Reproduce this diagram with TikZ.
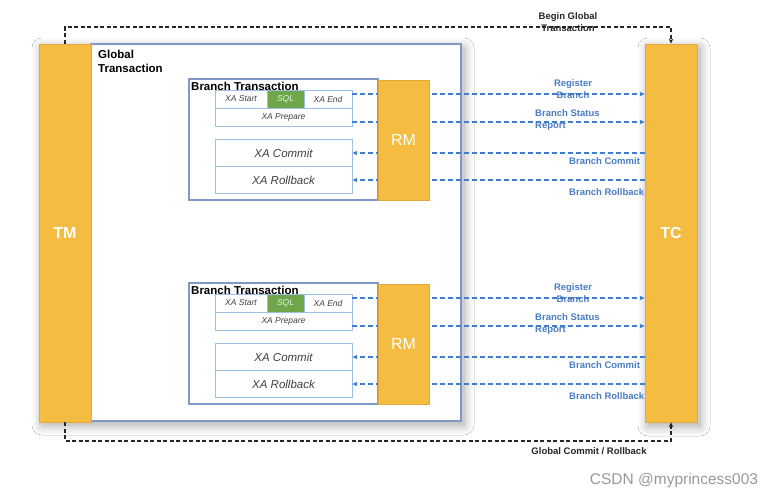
\documentclass[tikz,border=0pt]{standalone}
\usepackage{fontspec}
\setmainfont{Liberation Sans}
\usetikzlibrary{arrows.meta,shadows.blur}
\definecolor{ylw}{HTML}{F4BD42}
\definecolor{ylwb}{HTML}{E2A93A}
\definecolor{sqlg}{HTML}{6FA64A}
\definecolor{lnblue}{HTML}{3D7ED2}
\definecolor{txblue}{HTML}{4A7DC6}
\definecolor{cellb}{HTML}{9DC0E6}
\definecolor{boxb}{HTML}{7F98C6}
\tikzset{
  px/.style={x=1pt,y=-1pt},
  bar/.style={draw=ylwb,fill=ylw,line width=0.8pt,text=white,inner sep=0pt,font=\bfseries\fontsize{16}{18}\selectfont},
  gbox/.style={draw=boxb,fill=white,line width=1.2pt},
  brbox/.style={draw=boxb,fill=white,line width=1.1pt},
  cell/.style={draw=cellb,fill=white,line width=0.9pt,inner sep=0pt,font=\itshape\fontsize{8.5}{10}\selectfont,text=black!75},
  bigcell/.style={cell,font=\itshape\fontsize{11.5}{13}\selectfont},
  sqlcell/.style={cell,fill=sqlg,text=white!85!sqlg},
  rmbox/.style={draw=ylwb,fill=ylw,line width=0.8pt,text=white,font=\fontsize{16}{18}\selectfont},
  bline/.style={lnblue,line width=1.4pt,dash pattern=on 5pt off 3pt},
  btip/.style={-{Stealth[length=5pt,width=4.5pt]}},
  kline/.style={black!85,line width=1.4pt,dash pattern=on 4pt off 2.5pt},
  ktip/.style={-{Stealth[length=5pt,width=4.5pt]}},
  blab/.style={text=txblue,font=\bfseries\fontsize{9.5}{12}\selectfont,inner sep=0pt},
  klab/.style={text=black!85,font=\bfseries\fontsize{9.5}{12}\selectfont,inner sep=0pt},
  shd/.style={blur shadow={shadow xshift=3pt,shadow yshift=-4pt,shadow blur radius=10pt,shadow opacity=35,shadow blur steps=12}}
}
\begin{document}
\begin{tikzpicture}[px]
\path[use as bounding box] (0,0) rectangle (784,499);
\fill[white] (0,0) rectangle (784,499);

% soft shadows, drawn first
\path[shd,fill=white] (39,44) rectangle (461,421);
\path[shd,fill=white] (645,44) rectangle (697,422);

% global transaction box
\node[gbox,minimum width=370pt,minimum height=377pt,inner sep=0pt] (G) at (276,232.5) {};
\node[anchor=north west,align=left,inner sep=0pt,font=\bfseries\fontsize{11.5}{14}\selectfont] (GL) at (98,50) {Global\\Transaction};

% TM and TC
\node[bar,minimum width=52pt,minimum height=378pt] (TM) at (65,233) {TM};
\node[bar,minimum width=52pt,minimum height=378pt] (TC) at (671,233) {TC};

% branch transactions
\foreach \i/\dy in {1/0,2/204}{
  \node[brbox,minimum width=189pt,minimum height=121pt,inner sep=0pt] (B\i) at (283.5,139.5+\dy) {};
  \node[anchor=west,inner sep=0pt,font=\bfseries\fontsize{11.5}{13}\selectfont] (BL\i) at (191,86+\dy) {Branch Transaction};
  \node[cell,minimum width=52pt,minimum height=18pt] (xs\i) at (241,99+\dy) {XA Start};
  \node[sqlcell,minimum width=37pt,minimum height=18pt] (sql\i) at (285.5,99+\dy) {SQL};
  \node[cell,minimum width=48pt,minimum height=18pt] (xe\i) at (328,99+\dy) {XA End};
  \node[cell,minimum width=137pt,minimum height=18pt] (xp\i) at (283.5,117+\dy) {XA Prepare};
  \node[bigcell,minimum width=137pt,minimum height=27pt] (xc\i) at (283.5,153+\dy) {XA Commit};
  \node[bigcell,minimum width=137pt,minimum height=27pt] (xr\i) at (283.5,180+\dy) {XA Rollback};
  % connectors (behind RM)
  \draw[bline,btip] ([yshift=5pt]xe\i.east) -- ([yshift=5pt]xe\i.east -| TC.west);
  \draw[bline,btip] ([yshift=-5pt]xp\i.east) -- ([yshift=-5pt]xp\i.east -| TC.west);
  \draw[bline,btip] (xc\i.east -| TC.west) -- (xc\i.east);
  \draw[bline,btip] (xr\i.east -| TC.west) -- (xr\i.east);
  \node[rmbox,minimum width=51pt,minimum height=120pt,inner sep=0pt] (RM\i) at (403.5,140+\dy) {RM};
  % labels
  \node[blab,align=center] (lr\i) at (573,89+\dy) {Register\\Branch};
  \node[blab,align=left,anchor=west] (ls\i) at (535,120+\dy) {Branch Status\\Report};
  \node[blab,anchor=west] (lc\i) at (569,161+\dy) {Branch Commit};
  \node[blab,anchor=west] (lb\i) at (569,192+\dy) {Branch Rollback};
}

% global begin / end
\coordinate (t1) at (65,27);
\coordinate (t2) at (671,27);
\draw[kline,ktip] (TM.north) -- (t1) -- (t2) -- (TC.north);
\coordinate (b1) at (65,441);
\coordinate (b2) at (671,441);
\draw[kline,ktip] (TM.south) -- (b1) -- (b2) -- (TC.south);
\node[klab,align=center] (lbg) at (568,22) {Begin Global\\Transaction};
\node[klab] (lgc) at (589,451) {Global Commit / Rollback};

% watermark
\node[text=black!40,font=\fontsize{15.5}{17}\selectfont,inner sep=0pt] (wm) at (674,480) {CSDN @myprincess003};
\end{tikzpicture}
\end{document}
